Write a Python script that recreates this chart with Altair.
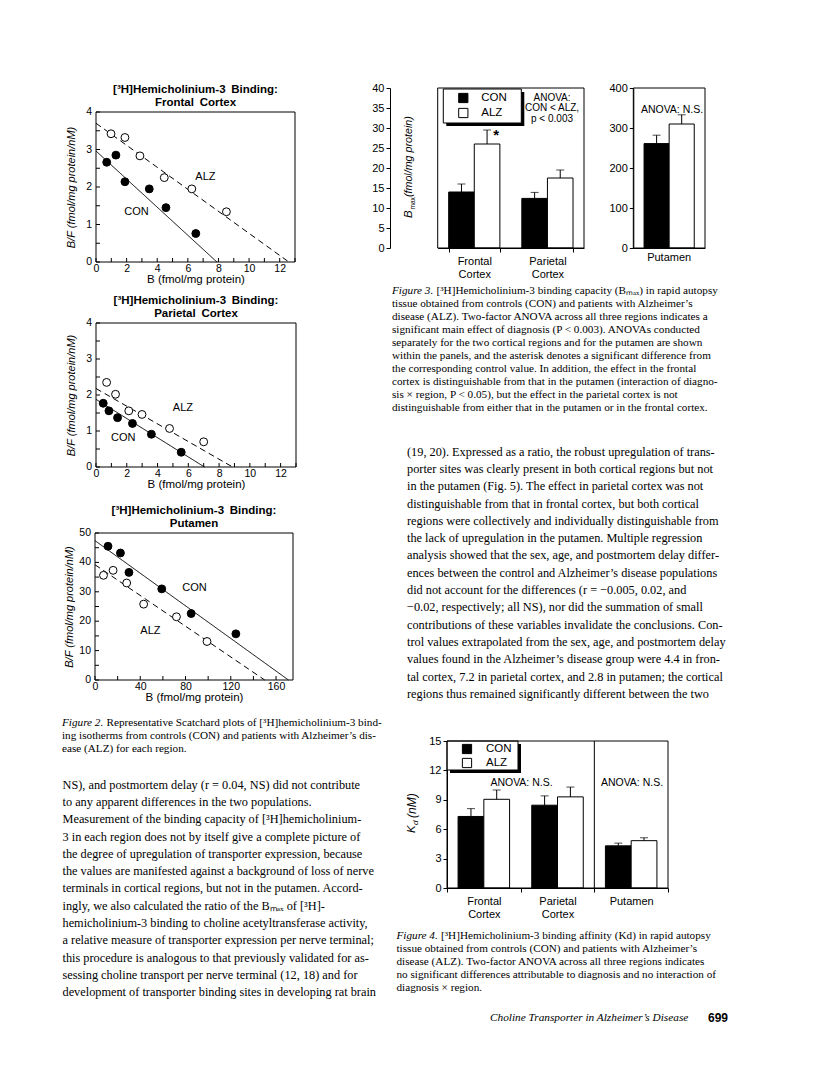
import altair as alt
import pandas as pd

SANS = "Liberation Sans"
SERIF = "Liberation Serif"
GROUPS = ["CON", "ALZ"]

# ---------------- Figure 2: Scatchard plots ----------------
fr_con_b = [0.70, 1.30, 1.89, 3.48, 4.57, 6.52]
fr_con_bf = [2.66, 2.85, 2.14, 1.95, 1.45, 0.76]
fr_alz_b = [0.98, 1.89, 2.87, 4.46, 6.26, 8.52]
fr_alz_bf = [3.42, 3.32, 2.83, 2.25, 1.95, 1.34]
fr_con_fit_b, fr_con_fit_bf = [0.0, 7.9], [2.96, 0.0]
fr_alz_fit_b, fr_alz_fit_bf = [0.0, 12.6], [3.70, 0.0]
fr_lab_b, fr_lab_bf = [2.65, 7.15], [1.34, 2.26]

pa_con_b = [0.47, 0.84, 1.40, 2.37, 3.60, 5.54]
pa_con_bf = [1.77, 1.56, 1.37, 1.21, 0.91, 0.41]
pa_alz_b = [0.69, 1.27, 2.13, 2.99, 4.78, 7.00]
pa_alz_bf = [2.35, 2.02, 1.56, 1.46, 1.07, 0.70]
pa_con_fit_b, pa_con_fit_bf = [0.0, 7.05], [1.88, 0.0]
pa_alz_fit_b, pa_alz_fit_bf = [0.0, 8.88], [2.18, 0.0]
pa_lab_b, pa_lab_bf = [1.77, 5.65], [0.80, 1.65]

pu_con_b = [11.5, 22.5, 30.0, 59.0, 85.0, 124.5]
pu_con_bf = [45.5, 43.2, 36.6, 31.0, 22.6, 15.7]
pu_alz_b = [7.5, 16.0, 28.0, 43.0, 72.0, 99.0]
pu_alz_bf = [35.6, 37.3, 33.0, 25.8, 21.5, 13.1]
pu_con_fit_b, pu_con_fit_bf = [0.0, 171.0], [47.4, 0.0]
pu_alz_fit_b, pu_alz_fit_bf = [0.0, 150.0], [39.2, 0.0]
pu_lab_b, pu_lab_bf = [88.0, 49.0], [31.2, 16.7]

ctx_xticks = [0, 1, 2, 3, 4, 5, 6, 7, 8, 9, 10, 11, 12, 13]
ctx_xlabels = [0, 2, 4, 6, 8, 10, 12]
ctx_yticks = [0, 0.5, 1, 1.5, 2, 2.5, 3, 3.5, 4]
ctx_ylabels = [0, 1, 2, 3, 4]
pu_xticks = [0, 20, 40, 60, 80, 100, 120, 140, 160]
pu_xlabels = [0, 40, 80, 120, 160]
pu_yticks = [0, 5, 10, 15, 20, 25, 30, 35, 40, 45, 50]
pu_ylabels = [0, 10, 20, 30, 40, 50]

# ---------------- Figure 3: Bmax ----------------
regions_ctx = ["Frontal Cortex", "Parietal Cortex"]
bmax_con = [14.0, 12.4]
bmax_con_err = [16.0, 13.9]
bmax_alz = [26.0, 17.5]
bmax_alz_err = [29.5, 19.5]
bmax_alz_sig = ["*", ""]
put_region = ["Putamen"]
put_bmax_con, put_bmax_con_err = [261.0], [282.0]
put_bmax_alz, put_bmax_alz_err = [310.0], [333.0]

# ---------------- Figure 4: Kd ----------------
regions_all = ["Frontal Cortex", "Parietal Cortex", "Putamen"]
kd_con = [7.3, 8.45, 4.3]
kd_con_err = [8.1, 9.4, 4.58]
kd_alz = [9.05, 9.3, 4.83]
kd_alz_err = [10.0, 10.3, 5.12]

# ---------------- Text ----------------
cap2_lines = [
    "Representative Scatchard plots of [³H]hemicholinium-3 bind-",
    "ing isotherms from controls (CON) and patients with Alzheimer’s dis-",
    "ease (ALZ) for each region.",
]
cap3_lines = [
    "[³H]Hemicholinium-3 binding capacity (Bₘₐₓ) in rapid autopsy",
    "tissue obtained from controls (CON) and patients with Alzheimer’s",
    "disease (ALZ). Two-factor ANOVA across all three regions indicates a",
    "significant main effect of diagnosis (P < 0.003). ANOVAs conducted",
    "separately for the two cortical regions and for the putamen are shown",
    "within the panels, and the asterisk denotes a significant difference from",
    "the corresponding control value. In addition, the effect in the frontal",
    "cortex is distinguishable from that in the putamen (interaction of diagno-",
    "sis × region, P < 0.05), but the effect in the parietal cortex is not",
    "distinguishable from either that in the putamen or in the frontal cortex.",
]
cap4_lines = [
    "[³H]Hemicholinium-3 binding affinity (Kd) in rapid autopsy",
    "tissue obtained from controls (CON) and patients with Alzheimer’s",
    "disease (ALZ). Two-factor ANOVA across all three regions indicates",
    "no significant differences attributable to diagnosis and no interaction of",
    "diagnosis × region.",
]
body_left_lines = [
    "NS), and postmortem delay (r = 0.04, NS) did not contribute",
    "to any apparent differences in the two populations.",
    "\u2003\u2002Measurement of the binding capacity of [³H]hemicholinium-",
    "3 in each region does not by itself give a complete picture of",
    "the degree of upregulation of transporter expression, because",
    "the values are manifested against a background of loss of nerve",
    "terminals in cortical regions, but not in the putamen. Accord-",
    "ingly, we also calculated the ratio of the Bₘₐₓ of [³H]-",
    "hemicholinium-3 binding to choline acetyltransferase activity,",
    "a relative measure of transporter expression per nerve terminal;",
    "this procedure is analogous to that previously validated for as-",
    "sessing choline transport per nerve terminal (12, 18) and for",
    "development of transporter binding sites in developing rat brain",
]
body_right_lines = [
    "(19, 20). Expressed as a ratio, the robust upregulation of trans-",
    "porter sites was clearly present in both cortical regions but not",
    "in the putamen (Fig. 5). The effect in parietal cortex was not",
    "distinguishable from that in frontal cortex, but both cortical",
    "regions were collectively and individually distinguishable from",
    "the lack of upregulation in the putamen. Multiple regression",
    "analysis showed that the sex, age, and postmortem delay differ-",
    "ences between the control and Alzheimer’s disease populations",
    "did not account for the differences (r = −0.005, 0.02, and",
    "−0.02, respectively; all NS), nor did the summation of small",
    "contributions of these variables invalidate the conclusions. Con-",
    "trol values extrapolated from the sex, age, and postmortem delay",
    "values found in the Alzheimer’s disease group were 4.4 in fron-",
    "tal cortex, 7.2 in parietal cortex, and 2.8 in putamen; the cortical",
    "regions thus remained significantly different between the two",
]
footer_title = "Choline Transporter in Alzheimer’s Disease"
footer_page = "699"

CAP_SIZE, CAP_LH = 11.2, 12.9
BODY_SIZE, BODY_LH = 12.3, 17.3
PREFIX_W = 44.5
ANN = 10.5


def one(txt=""):
    return pd.DataFrame({"t": [txt]})


def spacer(h, w=1):
    return alt.Chart(one("")).mark_text().encode(text="t:N").properties(width=w, height=h)


def text_block(lines, width, lh, size, x0=0.0, prefix=None, prefix_w=0.0):
    n = len(lines)
    df = pd.DataFrame({"line": list(range(n)), "text": lines})
    yenc = alt.Y("line:O", axis=None,
                 scale=alt.Scale(domain=list(range(n)), paddingInner=0, paddingOuter=0))
    common = dict(align="left", baseline="middle", font=SERIF, fontSize=size, color="black")
    if prefix is None:
        layers = [alt.Chart(df).mark_text(**common).encode(x=alt.value(x0), y=yenc, text="text:N")]
    else:
        pre = pd.DataFrame({"line": [0], "text": [prefix]})
        layers = [
            alt.Chart(pre).mark_text(fontStyle="italic", **common).encode(
                x=alt.value(x0), y=yenc, text="text:N"),
            alt.Chart(df).transform_filter("datum.line == 0").mark_text(**common).encode(
                x=alt.value(x0 + prefix_w), y=yenc, text="text:N"),
            alt.Chart(df).transform_filter("datum.line > 0").mark_text(**common).encode(
                x=alt.value(x0), y=yenc, text="text:N"),
        ]
    return alt.layer(*layers).properties(width=width, height=n * lh)


def frame(x0, x1, h):
    return alt.Chart(one()).mark_rect(filled=False, stroke="black", strokeWidth=1).encode(
        x=alt.value(x0), x2=alt.value(x1), y=alt.value(0), y2=alt.value(h))


def ptext(txt, x, y, size=ANN, align="center", baseline="middle", **kw):
    return alt.Chart(one(txt)).mark_text(align=align, baseline=baseline, font=SANS, fontSize=size,
                                         color="black", **kw).encode(
        x=alt.value(x), y=alt.value(y), text="t:N")


def vtext(txt, x, y, size, style="italic"):
    return alt.Chart(one(txt)).mark_text(angle=270, align="left", baseline="middle", font=SANS,
                                         fontSize=size, fontStyle=style, color="black").encode(
        x=alt.value(x), y=alt.value(y), text="t:N")


def boxed_legend(x0, y0, w, h, rows_y, sym_x, lab_x, size=11.5, off=3):
    """Legend box with a drop shadow, squares filled like the bars."""
    layers = [
        alt.Chart(one()).mark_rect(color="black").encode(
            x=alt.value(x0 + off), x2=alt.value(x0 + w + off),
            y=alt.value(y0 + off), y2=alt.value(y0 + h + off)),
        alt.Chart(one()).mark_rect(fill="white", stroke="black", strokeWidth=1).encode(
            x=alt.value(x0), x2=alt.value(x0 + w), y=alt.value(y0), y2=alt.value(y0 + h)),
    ]
    for g, ry, fc in zip(GROUPS, rows_y, ["black", "white"]):
        layers.append(alt.Chart(one(g)).mark_square(size=85, fill=fc, stroke="black", strokeWidth=1,
                                                    opacity=1).encode(
            x=alt.value(x0 + sym_x), y=alt.value(y0 + ry)))
        layers.append(ptext(g, x0 + lab_x, y0 + ry, size=size, align="left"))
    return layers


def scatchard(region, con_b, con_bf, alz_b, alz_bf, cfb, cfbf, afb, afbf, lab_b, lab_bf,
              xmax, ymax, xticks, xlabels, yticks, ylabels, plot_h, px0, px1, ytitle_pad):
    pts = pd.DataFrame({"b": con_b + alz_b, "bf": con_bf + alz_bf,
                        "group": ["CON"] * len(con_b) + ["ALZ"] * len(alz_b)})
    fits = pd.DataFrame({"b": cfb + afb, "bf": cfbf + afbf,
                         "group": ["CON"] * len(cfb) + ["ALZ"] * len(afb)})
    labs = pd.DataFrame({"b": lab_b, "bf": lab_bf, "txt": GROUPS})
    x = alt.X("b:Q", scale=alt.Scale(domain=[0, xmax], range=[px0, px1], nice=False, zero=False),
              axis=alt.Axis(values=xlabels, title="B (fmol/mg protein)", titleFont=SANS,
                            titleFontSize=11.5, titleFontWeight="normal", labelFont=SANS,
                            labelFontSize=10.5, ticks=False, tickSize=0, domain=False,
                            labelPadding=1, titlePadding=0, labelFlush=False, labelOverlap=False,
                            orient="bottom"))
    y = alt.Y("bf:Q", scale=alt.Scale(domain=[0, ymax], nice=False, zero=False),
              axis=alt.Axis(values=ylabels, labels=False, title="B/F (fmol/mg protein/nM)",
                            titleFont=SANS, titleFontSize=11, titleFontStyle="italic",
                            titleFontWeight="normal", ticks=False, tickSize=0, domain=False,
                            titlePadding=ytitle_pad, orient="left", offset=-px0))
    fill = alt.Fill("group:N", scale=alt.Scale(domain=GROUPS, range=["black", "white"]), legend=None)
    lines = alt.Chart(fits).mark_line(color="black", strokeWidth=1).encode(
        x=x, y=y, detail="group:N",
        strokeDash=alt.StrokeDash("group:N", scale=alt.Scale(domain=GROUPS, range=[[1, 0], [6, 4]]),
                                  legend=None))
    points = alt.Chart(pts).mark_point(shape="circle", size=62, filled=True, stroke="black",
                                       strokeWidth=1, opacity=1).encode(x=x, y=y, fill=fill)
    texts = alt.Chart(labs).mark_text(font=SANS, fontSize=11, color="black").encode(
        x=x, y=y, text="txt:N")
    # y tick labels placed through the y scale, just left of the frame
    ylab = alt.Chart(pd.DataFrame({"bf": ylabels})).mark_text(
        align="right", baseline="middle", font=SANS, fontSize=10.5, dx=-4, color="black").encode(
        x=alt.datum(0), y=y, text=alt.Text("bf:Q", format="d"))
    # inward tick marks along the left and bottom edges
    yt = alt.Chart(pd.DataFrame({"bf": yticks})).mark_rule(color="black", strokeWidth=1).encode(
        x=alt.datum(0), x2=alt.value(px0 + 4), y=y)
    xt = alt.Chart(pd.DataFrame({"b": xticks})).mark_rule(color="black", strokeWidth=1).encode(
        x=x, y=alt.datum(0), y2=alt.value(plot_h - 4))
    box = alt.Chart(one()).mark_rect(filled=False, stroke="black", strokeWidth=1).encode(
        x=alt.datum(0), x2=alt.datum(xmax), y=alt.datum(0), y2=alt.datum(ymax))
    return alt.layer(lines, points, texts, ylab, yt, xt, box).properties(
        width=px0 + px1, height=plot_h,
        title=alt.Title(["[³H]Hemicholinium-3\u2002Binding:", region], font=SANS, fontSize=11.5,
                        fontWeight="bold", anchor="middle", frame="group", offset=4, dy=5,
                        lineHeight=12.5, color="black"))


fig2_fr = scatchard("Frontal\u2002Cortex", fr_con_b, fr_con_bf, fr_alz_b, fr_alz_bf,
                    fr_con_fit_b, fr_con_fit_bf, fr_alz_fit_b, fr_alz_fit_bf, fr_lab_b, fr_lab_bf,
                    13, 4, ctx_xticks, ctx_xlabels, ctx_yticks, ctx_ylabels, 150, 34, 233, 19.5)
fig2_pa = scatchard("Parietal\u2002Cortex", pa_con_b, pa_con_bf, pa_alz_b, pa_alz_bf,
                    pa_con_fit_b, pa_con_fit_bf, pa_alz_fit_b, pa_alz_fit_bf, pa_lab_b, pa_lab_bf,
                    13, 4, ctx_xticks, ctx_xlabels, ctx_yticks, ctx_ylabels, 144, 34, 234, 19.5)
fig2_pu = scatchard("Putamen", pu_con_b, pu_con_bf, pu_alz_b, pu_alz_bf,
                    pu_con_fit_b, pu_con_fit_bf, pu_alz_fit_b, pu_alz_fit_bf, pu_lab_b, pu_lab_bf,
                    175, 50, pu_xticks, pu_xlabels, pu_yticks, pu_ylabels, 147, 33, 231, 20.5)


# ---------------- grouped bars helper ----------------
def bar_set(df, xenc, xoenc, yscale, yaxis, fill):
    bars = alt.Chart(df).mark_bar(stroke="black", strokeWidth=1).encode(
        x=xenc, xOffset=xoenc, y=alt.Y("value:Q", scale=yscale, axis=yaxis), fill=fill)
    rules = alt.Chart(df).mark_rule(color="black", strokeWidth=1).encode(
        x=xenc, xOffset=xoenc, y=alt.Y("value:Q", scale=yscale, axis=yaxis), y2="err:Q")
    caps = alt.Chart(df).mark_tick(color="black", thickness=1, size=8, orient="horizontal").encode(
        x=xenc, xOffset=xoenc, y=alt.Y("err:Q", scale=yscale, axis=yaxis))
    return [bars, rules, caps]


FILL = alt.Fill("group:N", sort=GROUPS, scale=alt.Scale(domain=GROUPS, range=["black", "white"]),
                legend=None)

# ---------------- Figure 3 ----------------
F3_H = 160
L0, L1 = 47.7, 194.0
R0, R1 = 243.3, 315.0
df3L = pd.DataFrame({"region": regions_ctx * 2, "group": ["CON"] * 2 + ["ALZ"] * 2,
                     "value": bmax_con + bmax_alz, "err": bmax_con_err + bmax_alz_err,
                     "sig": ["", ""] + bmax_alz_sig})
df3R = pd.DataFrame({"region": put_region * 2, "group": GROUPS,
                     "value": put_bmax_con + put_bmax_alz,
                     "err": put_bmax_con_err + put_bmax_alz_err})

x3L = alt.X("region:N", sort=regions_ctx,
            scale=alt.Scale(domain=regions_ctx, range=[L0, L1], paddingInner=0.3, paddingOuter=0.15),
            axis=alt.Axis(title=None, labelAngle=0, labelExpr="split(datum.label, ' ')", labelFont=SANS,
                          labelFontSize=11, labelLineHeight=13, labelPadding=3, tickBand="extent",
                          tickSize=4, orient="bottom"))
xo3 = alt.XOffset("group:N", sort=GROUPS,
                  scale=alt.Scale(domain=GROUPS, paddingInner=0, paddingOuter=0))
y3L_scale = alt.Scale(domain=[0, 40], nice=False)
y3L_axis = alt.Axis(values=[0, 5, 10, 15, 20, 25, 30, 35, 40], title=None, orient="left",
                    labelFont=SANS, labelFontSize=11, tickSize=4, labelPadding=2,
                    labelOverlap=False, labelFlush=False)
star = alt.Chart(df3L).mark_text(font=SANS, fontSize=15, fontWeight="bold", dx=9, dy=5,
                                 color="black").encode(
    x=x3L, xOffset=xo3, y=alt.Y("err:Q", scale=y3L_scale, axis=y3L_axis), text="sig:N")
fig3L = alt.layer(
    *bar_set(df3L, x3L, xo3, y3L_scale, y3L_axis, FILL),
    star,
    *boxed_legend(53.3, 1, 78, 34, [9, 24], 20, 38),
    ptext("ANOVA:\nCON < ALZ,\np < 0.003", 162, 4.5, size=10, baseline="top", lineBreak="\n",
          lineHeight=10.5),
    vtext("B", 19, 130, 11.5),
    vtext("max", 22.5, 121.5, 6.5, style="normal"),
    vtext("(fmol/mg protein)", 19, 109, 10.7),
    frame(L0, L1, F3_H),
)

x3R = alt.X("region:N", sort=put_region,
            scale=alt.Scale(domain=put_region, range=[R0, R1], paddingInner=0.3, paddingOuter=0.15),
            axis=alt.Axis(title=None, labelAngle=0, labelFont=SANS, labelFontSize=11, labelPadding=3,
                          ticks=False, orient="bottom"))
y3R_scale = alt.Scale(domain=[0, 400], nice=False)
y3R_axis = alt.Axis(values=[0, 100, 200, 300, 400], title=None, orient="left", offset=-R0,
                    labelFont=SANS, labelFontSize=11, tickSize=4, labelPadding=2,
                    labelOverlap=False, labelFlush=False)
fig3R = alt.layer(
    *bar_set(df3R, x3R, xo3, y3R_scale, y3R_axis, FILL),
    ptext("ANOVA: N.S.", 282, 22),
    frame(R0, R1, F3_H),
)
fig3 = alt.layer(fig3L, fig3R).resolve_scale(
    x="independent", y="independent", xOffset="independent"
).properties(width=R1, height=F3_H)

# ---------------- Figure 4 ----------------
F4_H = 147
K0, K1 = 57.0, 278.0
df4 = pd.DataFrame({"region": regions_all * 2, "group": ["CON"] * 3 + ["ALZ"] * 3,
                    "value": kd_con + kd_alz, "err": kd_con_err + kd_alz_err})


def x4enc(**kw):
    return alt.X("region:N", sort=regions_all,
                 scale=alt.Scale(domain=regions_all, range=[K0, K1], paddingInner=0, paddingOuter=0),
                 axis=alt.Axis(title=None, labelAngle=0, labelExpr="split(datum.label, ' ')",
                               labelFont=SANS, labelFontSize=11, labelLineHeight=13, labelPadding=3,
                               tickBand="extent", tickSize=4, orient="bottom"), **kw)


xo4 = alt.XOffset("group:N", sort=GROUPS,
                  scale=alt.Scale(domain=GROUPS, paddingInner=0, paddingOuter=0.43))
y4_scale = alt.Scale(domain=[0, 15], nice=False)
y4_axis = alt.Axis(values=[0, 3, 6, 9, 12, 15], title=None, orient="left", offset=-K0,
                   labelFont=SANS, labelFontSize=11, tickSize=4, labelPadding=2,
                   labelOverlap=False, labelFlush=False)
divider = alt.Chart(pd.DataFrame({"region": ["Putamen"]})).mark_rule(
    color="black", strokeWidth=1).encode(x=x4enc(bandPosition=0))
fig4 = alt.layer(
    *bar_set(df4, x4enc(), xo4, y4_scale, y4_axis, FILL),
    divider,
    *boxed_legend(K0, 0, 71, 29, [8, 22], 20, 39),
    ptext("ANOVA: N.S.", 131.5, 42),
    ptext("ANOVA: N.S.", 242, 42),
    vtext("K", 22, 92, 11.5),
    vtext("d", 25.5, 84, 8),
    vtext("(nM)", 22, 77, 12),
    frame(K0, K1, F4_H),
).properties(width=K1, height=F4_H)

# ---------------- text blocks ----------------
cap2 = text_block(cap2_lines, 340, CAP_LH, CAP_SIZE, x0=0, prefix="Figure 2.", prefix_w=PREFIX_W)
body_left = text_block(body_left_lines, 340, BODY_LH, BODY_SIZE, x0=0.5)
cap3 = text_block(cap3_lines, 340, CAP_LH, CAP_SIZE, x0=2, prefix="Figure 3.", prefix_w=PREFIX_W)
body_right = text_block(body_right_lines, 340, BODY_LH, BODY_SIZE, x0=17)
cap4 = text_block(cap4_lines, 340, CAP_LH, CAP_SIZE, x0=6.5, prefix="Figure 4.", prefix_w=PREFIX_W)
footer = alt.layer(
    alt.Chart(one(footer_title)).mark_text(align="left", baseline="middle", font=SERIF,
                                           fontSize=11.3, fontStyle="italic", color="black").encode(
        x=alt.value(100), y=alt.value(7), text="t:N"),
    alt.Chart(one(footer_page)).mark_text(align="left", baseline="middle", font=SANS,
                                          fontSize=12, fontWeight="bold", color="black").encode(
        x=alt.value(318), y=alt.value(7), text="t:N"),
).properties(width=340, height=14)

LEFT = alt.vconcat(
    spacer(42), fig2_fr, spacer(61), fig2_pa, spacer(66), fig2_pu, spacer(36.2), cap2,
    spacer(19.45), body_left, spacing=0, bounds="flush")
RIGHT = alt.vconcat(
    spacer(18), fig3, spacer(36.05), cap3, spacer(28.3), body_right, spacer(37.15), fig4,
    spacer(41.55), cap4, spacer(16), footer, spacing=0, bounds="flush")

chart = alt.hconcat(LEFT, RIGHT, spacing=328, bounds="flush").properties(
    padding={"left": 54, "top": 62, "right": 0, "bottom": 0}, background="white"
).configure_view(stroke=None).configure_axis(
    grid=False, domainColor="black", tickColor="black", labelColor="black", titleColor="black",
    domainWidth=1, tickWidth=1
)

chart.save("out.html", embed_options={"renderer": "svg", "actions": False})
